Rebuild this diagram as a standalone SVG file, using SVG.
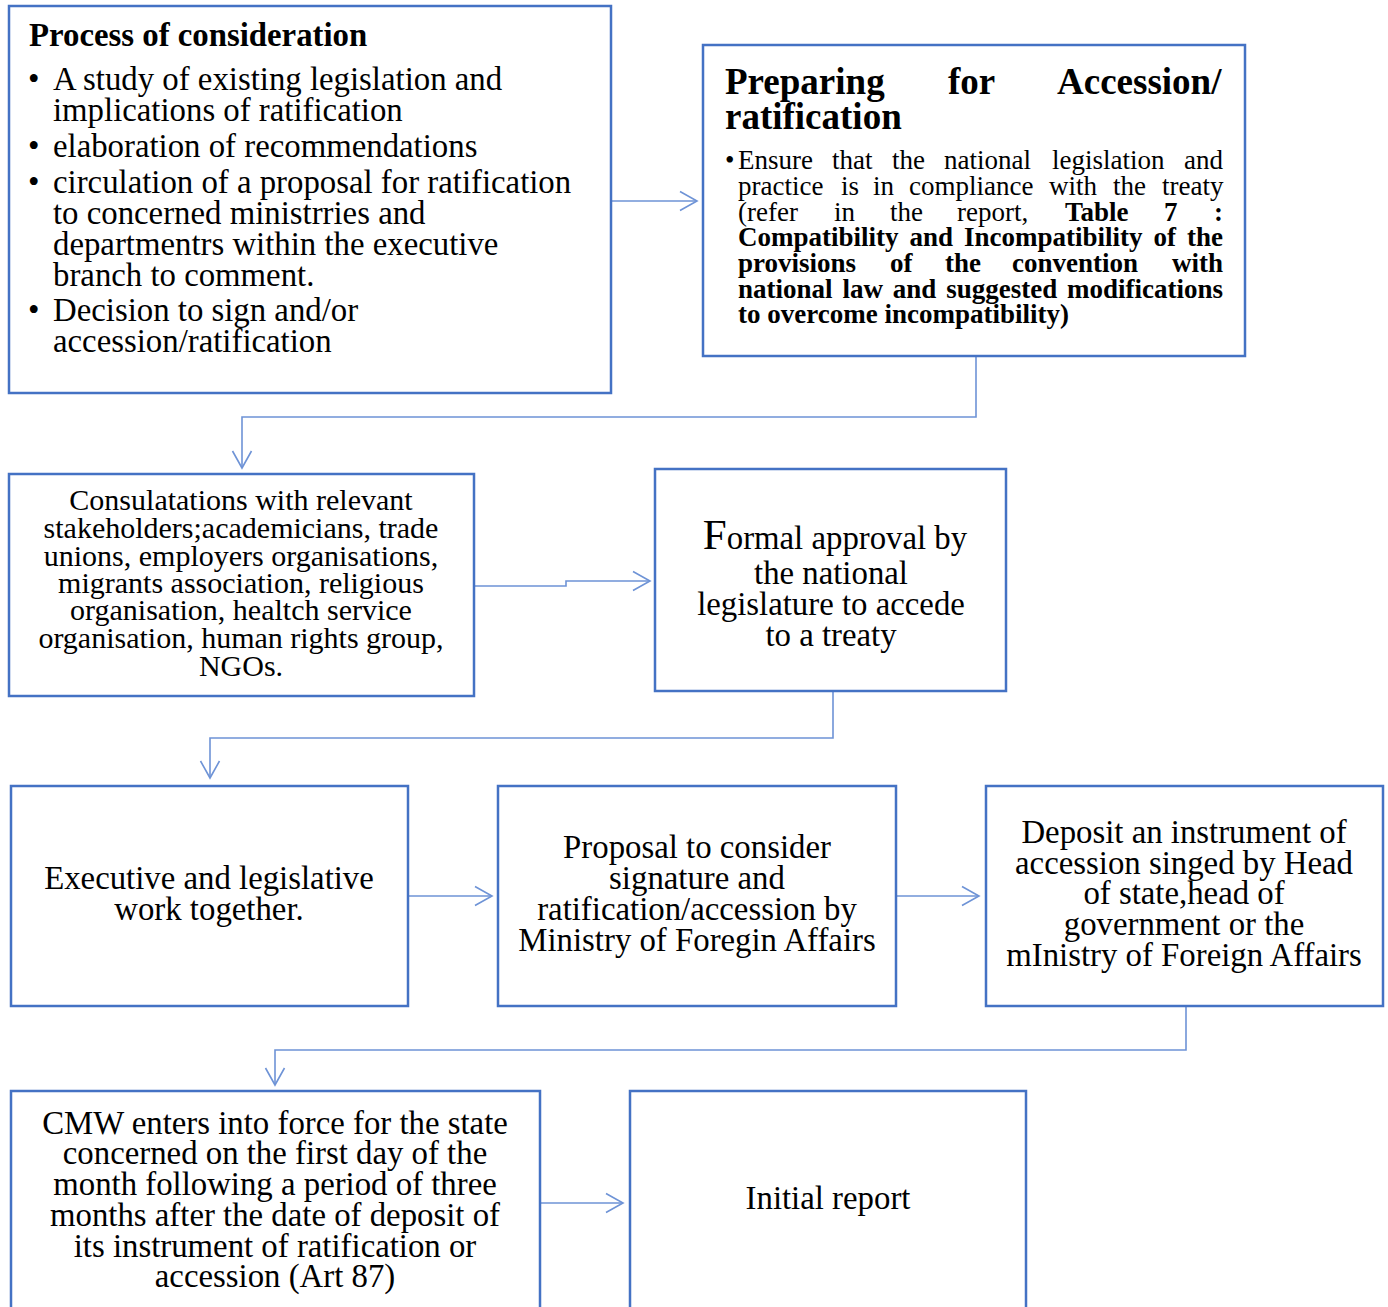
<svg xmlns="http://www.w3.org/2000/svg" width="1388" height="1307" viewBox="0 0 1388 1307">
<style>
.box{fill:#fff;stroke:#4472C4;stroke-width:2.5}
.t{font-family:"Liberation Serif","Times New Roman",serif;font-size:32.8px;fill:#000}
.c{text-anchor:middle}
.b{font-weight:bold}
.s{font-size:30px}
.p{font-family:"Liberation Serif","Times New Roman",serif;font-size:27px;fill:#000}
.h{font-size:37px;font-weight:bold}
.con{fill:none;stroke:#6E93D6;stroke-width:1.6}
</style>
<defs>
<marker id="arr" markerUnits="userSpaceOnUse" markerWidth="22" markerHeight="24" refX="18" refY="11" orient="auto" overflow="visible">
<path d="M1,1.5 L18,11 L1,20.5" fill="none" stroke="#6E93D6" stroke-width="1.6"/>
</marker>
</defs>
<rect width="1388" height="1307" fill="#fff"/>

<g id="connectors">
<path class="con" d="M611,201 L697,201" marker-end="url(#arr)"/>
<path class="con" d="M976,356 L976,417 L242,417 L242,468" marker-end="url(#arr)"/>
<path class="con" d="M474,586 L566,586 L566,581 L650,581" marker-end="url(#arr)"/>
<path class="con" d="M833,691 L833,738 L210,738 L210,778" marker-end="url(#arr)"/>
<path class="con" d="M408,896 L492,896" marker-end="url(#arr)"/>
<path class="con" d="M896,896 L979,896" marker-end="url(#arr)"/>
<path class="con" d="M1186,1006 L1186,1050 L275,1050 L275,1085" marker-end="url(#arr)"/>
<path class="con" d="M540,1203 L623,1203" marker-end="url(#arr)"/>
</g>

<g id="node-consideration">
<rect class="box" x="9" y="6" width="602" height="387"/>
<text class="t"><tspan class="b" x="29" y="46">Process of consideration</tspan><tspan x="28" y="90">•</tspan><tspan x="53" y="90">A study of existing legislation and</tspan><tspan x="53" y="121">implications of ratification</tspan><tspan x="28" y="157">•</tspan><tspan x="53" y="157">elaboration of recommendations</tspan><tspan x="28" y="193">•</tspan><tspan x="53" y="193">circulation of a proposal for ratification</tspan><tspan x="53" y="224">to concerned ministrries and</tspan><tspan x="53" y="255">departmentrs within the executive</tspan><tspan x="53" y="286">branch to comment.</tspan><tspan x="28" y="321">•</tspan><tspan x="53" y="321">Decision to sign and/or</tspan><tspan x="53" y="352">accession/ratification</tspan></text>
</g>

<g id="node-preparing">
<rect class="box" x="703" y="45" width="542" height="311"/>
<text class="p"><tspan class="h" x="725" y="94">Preparing</tspan><tspan class="h" x="948" y="94">for</tspan><tspan class="h" x="1057" y="94">Accession/</tspan><tspan class="h" x="725" y="129">ratification</tspan><tspan x="725" y="169">•</tspan><tspan x="738" y="169">Ensure</tspan><tspan x="832" y="169">that</tspan><tspan x="892" y="169">the</tspan><tspan x="944" y="169">national</tspan><tspan x="1052" y="169">legislation</tspan><tspan x="1184" y="169">and</tspan><tspan x="738" y="195">practice</tspan><tspan x="841" y="195">is</tspan><tspan x="873" y="195">in</tspan><tspan x="909" y="195">compliance</tspan><tspan x="1049" y="195">with</tspan><tspan x="1113" y="195">the</tspan><tspan x="1162" y="195">treaty</tspan><tspan x="738" y="221">(refer</tspan><tspan x="834" y="221">in</tspan><tspan x="890" y="221">the</tspan><tspan x="957" y="221">report,</tspan><tspan class="b" x="1065" y="221">Table</tspan><tspan class="b" x="1164" y="221">7</tspan><tspan class="b" x="1214" y="221">:</tspan><tspan class="b" x="738" y="246">Compatibility</tspan><tspan class="b" x="909.6" y="246">and</tspan><tspan class="b" x="964" y="246">Incompatibility</tspan><tspan class="b" x="1153.6" y="246">of</tspan><tspan class="b" x="1187" y="246">the</tspan><tspan class="b" x="738" y="272">provisions</tspan><tspan class="b" x="890" y="272">of</tspan><tspan class="b" x="945" y="272">the</tspan><tspan class="b" x="1012" y="272">convention</tspan><tspan class="b" x="1172" y="272">with</tspan><tspan class="b" x="738" y="298">national</tspan><tspan class="b" x="842.4" y="298">law</tspan><tspan class="b" x="892.8" y="298">and</tspan><tspan class="b" x="946.2" y="298">suggested</tspan><tspan class="b" x="1067" y="298">modifications</tspan><tspan class="b" x="738" y="323">to overcome incompatibility)</tspan></text>
</g>

<g id="node-consultations">
<rect class="box" x="9" y="474" width="465" height="222"/>
<text class="t s c"><tspan x="241" y="510">Consulatations with relevant</tspan><tspan x="241" y="538">stakeholders;academicians, trade</tspan><tspan x="241" y="566">unions, employers organisations,</tspan><tspan x="241" y="593">migrants association, religious</tspan><tspan x="241" y="620">organisation, healtch service</tspan><tspan x="241" y="648">organisation, human rights group,</tspan><tspan x="241" y="676">NGOs.</tspan></text>
</g>

<g id="node-formal-approval">
<rect class="box" x="655" y="469" width="351" height="222"/>
<text class="t c"><tspan x="835" y="549" font-size="43">F</tspan><tspan>ormal approval by</tspan><tspan x="831" y="584">the national</tspan><tspan x="831" y="615">legislature to accede</tspan><tspan x="831" y="646">to a treaty</tspan></text>
</g>

<g id="node-executive">
<rect class="box" x="11" y="786" width="397" height="220"/>
<text class="t c"><tspan x="209" y="889">Executive and legislative</tspan><tspan x="209" y="920">work together.</tspan></text>
</g>

<g id="node-proposal">
<rect class="box" x="498" y="786" width="398" height="220"/>
<text class="t c"><tspan x="697" y="858">Proposal to consider</tspan><tspan x="697" y="889">signature and</tspan><tspan x="697" y="920">ratification/accession by</tspan><tspan x="697" y="951">Ministry of Foregin Affairs</tspan></text>
</g>

<g id="node-deposit">
<rect class="box" x="986" y="786" width="397" height="220"/>
<text class="t c"><tspan x="1184" y="843">Deposit an instrument of</tspan><tspan x="1184" y="874">accession singed by Head</tspan><tspan x="1184" y="904">of state,head of</tspan><tspan x="1184" y="935">government or the</tspan><tspan x="1184" y="966">mInistry of Foreign Affairs</tspan></text>
</g>

<g id="node-cmw">
<rect class="box" x="11" y="1091" width="529" height="240"/>
<text class="t c"><tspan x="275" y="1134">CMW enters into force for the state</tspan><tspan x="275" y="1164">concerned on the first day of the</tspan><tspan x="275" y="1195">month following a period of three</tspan><tspan x="275" y="1226">months after the date of deposit of</tspan><tspan x="275" y="1257">its instrument of ratification or</tspan><tspan x="275" y="1287">accession (Art 87)</tspan></text>
</g>

<g id="node-initial-report">
<rect class="box" x="630" y="1091" width="396" height="240"/>
<text class="t c"><tspan x="828" y="1209">Initial report</tspan></text>
</g>
</svg>
